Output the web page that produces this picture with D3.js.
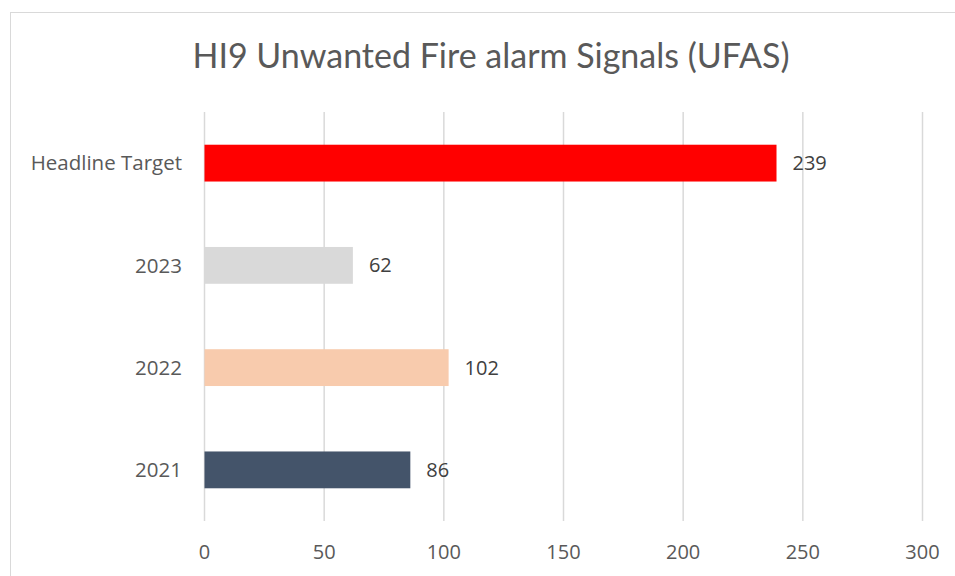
<!DOCTYPE html>
<html>
<head>
<meta charset="utf-8">
<script src="https://cdn.jsdelivr.net/npm/d3@7"></script>
<style>
  body { margin: 0; background: #fff; }
  text { font-family: "Open Sans", Lato, sans-serif; }
</style>
</head>
<body>
<div id="chart"></div>
<script>
const width = 955;
const height = 576;

const categories = ['Headline Target', '2023', '2022', '2021'];
const values = [239, 62, 102, 86];
const colors = ['#ff0000', '#d9d9d9', '#f8cbad', '#44546a'];
const xTicks = [0, 50, 100, 150, 200, 250, 300];
const title = 'HI9 Unwanted Fire alarm Signals (UFAS)';

const svg = d3.select('#chart').append('svg')
  .attr('width', width)
  .attr('height', height);

// outer chart border
svg.append('rect')
  .attr('x', 10.5).attr('y', 12.5)
  .attr('width', 960).attr('height', 600)
  .style('fill', 'none')
  .style('stroke', '#d9d9d9');

svg.append('text')
  .attr('x', 491).attr('y', 68)
  .attr('text-anchor', 'middle')
  .style('font-family', 'Lato, sans-serif')
  .style('font-size', '34px')
  .style('fill', '#595959')
  .text(title);

const x = d3.scaleLinear().domain([0, 300]).range([204.5, 922.5]);
const y = d3.scaleBand().domain(categories).range([112, 521]).paddingInner(0.64).paddingOuter(0.32);

// gridlines
svg.append('g').selectAll('line')
  .data(xTicks)
  .join('line')
  .attr('x1', d => x(d)).attr('x2', d => x(d))
  .attr('y1', 112).attr('y2', 521)
  .style('stroke', '#d9d9d9')
  .style('stroke-width', 1.5);

// x tick labels
svg.append('g').selectAll('text')
  .data(xTicks)
  .join('text')
  .attr('x', d => x(d))
  .attr('y', 559)
  .attr('text-anchor', 'middle')
  .style('font-size', '20px')
  .style('fill', '#595959')
  .text(d => d);

// category labels
svg.append('g').selectAll('text')
  .data(categories)
  .join('text')
  .attr('x', 182)
  .attr('y', d => y(d) + y.bandwidth() / 2)
  .attr('dy', '0.35em')
  .attr('text-anchor', 'end')
  .style('font-size', '20.5px')
  .style('fill', '#595959')
  .text(d => d);

// bars
svg.append('g').selectAll('rect')
  .data(categories)
  .join('rect')
  .attr('x', x(0))
  .attr('y', d => y(d))
  .attr('width', (d, i) => x(values[i]) - x(0))
  .attr('height', y.bandwidth())
  .style('fill', (d, i) => colors[i]);

// value labels
svg.append('g').selectAll('text')
  .data(categories)
  .join('text')
  .attr('x', (d, i) => x(values[i]) + 16)
  .attr('y', d => y(d) + y.bandwidth() / 2)
  .attr('dy', '0.35em')
  .style('font-size', '20px')
  .style('fill', '#404040')
  .text((d, i) => values[i]);
</script>
</body>
</html>
